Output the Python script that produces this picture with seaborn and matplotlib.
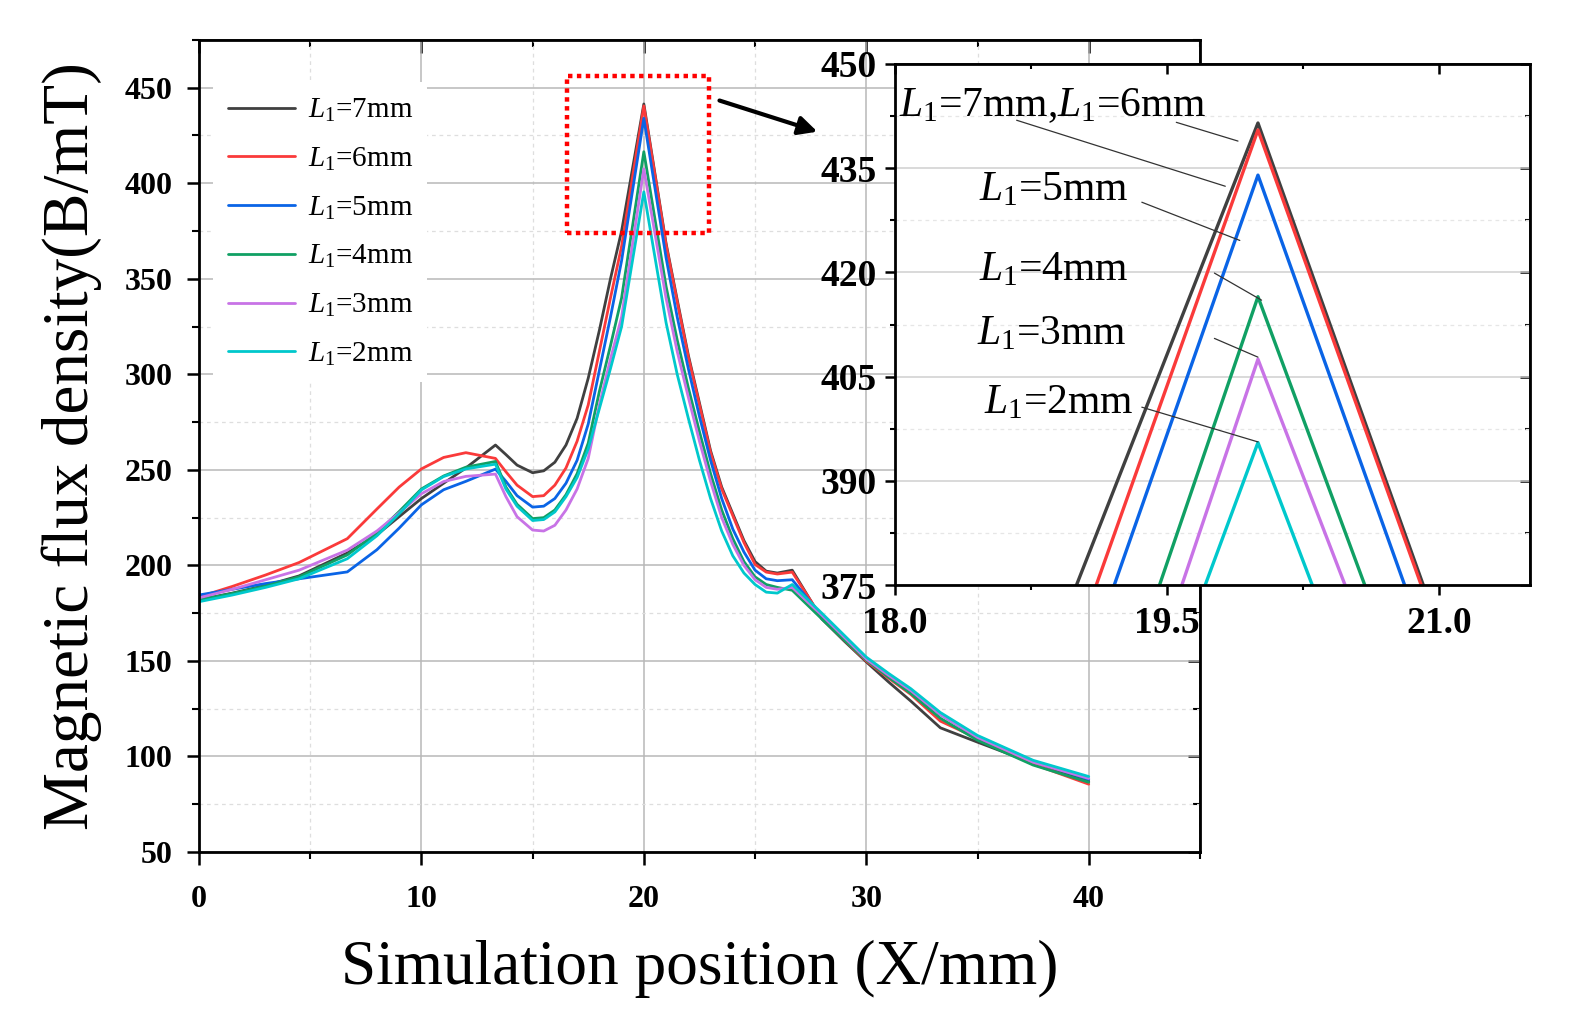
import pandas as pd
import seaborn as sns
from matplotlib import pyplot as plt
from matplotlib.patches import Rectangle
from matplotlib.ticker import MultipleLocator

# simulation positions (mm), shared by every case
POSITION = [0, 1.5, 3, 4.5, 6.67, 8, 9, 10, 11, 12,
            13.33, 13.8, 14.3, 15, 15.5, 16, 16.5, 17, 17.5, 18,
            18.5, 19, 20, 21, 21.5, 22, 22.5, 23, 23.5, 24,
            24.5, 25, 25.5, 26, 26.67, 28, 29, 30, 31, 32,
            33.33, 35, 37.5, 40]

# magnetic flux density (mT), one list per L1
FLUX_7MM = [182, 185.5, 189.5, 194.5, 206.5, 216, 225.5, 235, 243, 251,
            263, 258, 252.5, 248.5, 249.5, 254, 263, 277, 298, 323,
            350, 375, 441.5, 368.5, 339, 310, 285, 260, 241, 227,
            213, 202, 197, 196, 197.5, 172, 160.5, 149.5, 139, 129,
            115, 107.5, 96.5, 87]
FLUX_6MM = [183.5, 189, 195, 201.5, 214, 229.5, 241, 250.5, 256.5, 259,
            256, 249, 242, 236, 236.5, 242, 251, 265, 284, 312,
            340, 367, 440.5, 367.7, 338, 309, 284, 259, 240, 226,
            212, 200.5, 196.5, 195.5, 196.5, 172.5, 161, 150, 141, 132.5,
            118.5, 109.5, 96, 85.5]
FLUX_5MM = [184.5, 187.5, 190.5, 193, 196.6, 208.2, 219.5, 231.7, 239.6, 244,
            250.4, 244, 236.5, 230.5, 231, 235, 243, 255, 274, 302,
            330, 359.5, 434, 361, 330, 303, 278, 255, 235, 219,
            207, 197.5, 193, 192, 192.5, 173.5, 162, 151, 142.5, 134.5,
            122, 110, 97.5, 88]
FLUX_4MM = [182, 185.3, 189.2, 194, 205.5, 216.9, 228.2, 240, 246.8, 251.4,
            254.4, 241, 232, 224.5, 225, 229, 237, 248, 264, 291,
            315, 340, 416.5, 346, 318, 293, 270, 248, 229, 214,
            202, 194, 190, 188.5, 187, 172, 161, 150.5, 141.5, 133,
            120, 108.5, 95.5, 86.5]
FLUX_3MM = [183, 187.5, 192.5, 197.5, 208, 218, 227.5, 237.5, 243.9, 246.6,
            247.8, 236, 225.5, 218.5, 218, 221, 229, 240, 256, 284,
            308, 330, 407.5, 339.8, 312, 288, 265, 244, 225, 211,
            200, 192.5, 188.5, 187.5, 188.5, 174, 162.5, 151, 142.5, 134.5,
            122, 110, 97, 88.5]
FLUX_2MM = [181, 184.5, 188.5, 193, 203.5, 215.5, 227, 239.5, 246.5, 250.5,
            253, 240, 231, 223.5, 224, 228, 236, 246, 261, 282,
            303, 325, 395.5, 327, 300, 277, 255, 235, 218, 205,
            196, 190, 186, 185.5, 190, 175, 163.5, 152, 143.5, 135.5,
            123, 111, 98, 89.5]

SERIES = [FLUX_7MM, FLUX_6MM, FLUX_5MM, FLUX_4MM, FLUX_3MM, FLUX_2MM]
L1 = r"$\mathit{L}_{\mathit{1}}$"
LABELS = [L1 + "=7mm", L1 + "=6mm", L1 + "=5mm", L1 + "=4mm", L1 + "=3mm", L1 + "=2mm"]
COLOURS = ["#404040", "#fa3a3a", "#0a64e6", "#10a064", "#c873e6", "#00c8cc"]

# inset callouts: text, text anchor (x, y), leader lines [(start, end), ...]
CALLOUTS = [
    (L1 + "=7mm," + L1 + "=6mm", (18.02, 444.0),
     [((18.67, 441.9), (19.82, 432.4)), ((19.55, 441.6), (19.89, 438.9))]),
    (L1 + "=5mm", (18.46, 431.8), [((19.36, 430.1), (19.90, 424.6))]),
    (L1 + "=4mm", (18.46, 420.4), [((19.76, 419.9), (20.02, 416.0))]),
    (L1 + "=3mm", (18.45, 411.1), [((19.76, 410.5), (20.0, 407.8))]),
    (L1 + "=2mm", (18.49, 401.2), [((19.36, 400.6), (20.0, 395.6))]),
]

frames = []
for label, values in zip(LABELS, SERIES):
    frames.append(pd.DataFrame({"position": POSITION, "flux": values, "case": label}))
df = pd.concat(frames, ignore_index=True)

sns.set_theme(style="white")
plt.rcParams["font.family"] = ["Liberation Serif", "DejaVu Serif"]
plt.rcParams["mathtext.fontset"] = "custom"
plt.rcParams["mathtext.rm"] = "Liberation Serif"
plt.rcParams["mathtext.it"] = "Liberation Serif:italic"
plt.rcParams["text.color"] = "black"
plt.rcParams["axes.labelcolor"] = "black"
plt.rcParams["xtick.color"] = "black"
plt.rcParams["ytick.color"] = "black"


def style_frame(axis, xmajor, xminor, ymajor, yminor, size, length):
    for spine in axis.spines.values():
        spine.set_color("black")
        spine.set_linewidth(2)
    axis.xaxis.set_minor_locator(MultipleLocator(xminor))
    axis.yaxis.set_minor_locator(MultipleLocator(yminor))
    axis.tick_params(which="major", direction="out", length=length, width=1.8,
                     labelsize=size, colors="black", bottom=True, left=True)
    axis.tick_params(which="minor", direction="out", length=length * 0.55, width=1.5,
                     bottom=True, left=True)
    # mirrored ticks pointing inwards on top / right
    top = axis.secondary_xaxis("top")
    top.set_xticks(xmajor)
    top.xaxis.set_minor_locator(MultipleLocator(xminor))
    top.tick_params(which="major", direction="in", length=length, width=1.8, labeltop=False)
    top.tick_params(which="minor", direction="in", length=length * 0.55, width=1.5)
    right = axis.secondary_yaxis("right")
    right.set_yticks(ymajor)
    right.yaxis.set_minor_locator(MultipleLocator(yminor))
    right.tick_params(which="major", direction="in", length=length, width=1.8, labelright=False)
    right.tick_params(which="minor", direction="in", length=length * 0.55, width=1.5)


fig = plt.figure(figsize=(15.75, 10.3), dpi=100)

# ---- main plot
ax = fig.add_axes([0.1263, 0.1728, 0.6356, 0.7884])
sns.lineplot(data=df, x="position", y="flux", hue="case", hue_order=LABELS,
             palette=COLOURS, linewidth=2.0, errorbar=None, sort=False, ax=ax)
ax.set_xlim(0, 45)
ax.set_ylim(50, 475)
xt = [0, 10, 20, 30, 40]
yt = list(range(50, 451, 50))
ax.set_xticks(xt)
ax.set_xticklabels([str(t) for t in xt], fontweight="bold")
ax.set_yticks(yt)
ax.set_yticklabels([str(t) for t in yt], fontweight="bold")
style_frame(ax, xt, 5, yt, 25, 23, 9)
ax.tick_params(axis="x", pad=15)
ax.tick_params(axis="y", pad=10)
ax.grid(which="major", color="#b8b8b8", linewidth=1.1)
ax.grid(which="minor", color="#dedede", linewidth=0.9, linestyle=(0, (3, 3)))
ax.set_axisbelow(True)
ax.set_xlabel("Simulation position (X/mm)", fontsize=45.5, labelpad=18)
ax.set_ylabel("Magnetic flux density(B/mT)", fontsize=47, labelpad=16)

leg = ax.legend(loc="upper left", bbox_to_anchor=(0.014, 0.948), fontsize=21,
                frameon=True, handlelength=2.3, labelspacing=0.74, handletextpad=0.45,
                borderpad=0.5, borderaxespad=0)
leg.get_frame().set_facecolor("white")
leg.get_frame().set_edgecolor("none")
leg.get_frame().set_alpha(1)
for line in leg.get_lines():
    line.set_linewidth(2)

ax.add_patch(Rectangle((16.55, 373.8), 6.4, 82.5, fill=False, edgecolor="#ff0000",
                       linewidth=3.2, linestyle=(0, (1, 1)), zorder=5))
ax.annotate("", xy=(27.8, 427.0), xytext=(23.4, 443.3), annotation_clip=False,
            arrowprops=dict(arrowstyle="-|>", color="black", lw=3, mutation_scale=28,
                            shrinkA=0, shrinkB=0))

# ---- zoomed inset
axin = fig.add_axes([0.5683, 0.432, 0.4032, 0.5059])
axin.set_facecolor("white")
sns.lineplot(data=df, x="position", y="flux", hue="case", hue_order=LABELS,
             palette=COLOURS, linewidth=2.4, errorbar=None, sort=False, legend=False, ax=axin)
axin.set_xlim(18, 21.5)
axin.set_ylim(375, 450)
ixt = [18.0, 19.5, 21.0]
iyt = list(range(375, 451, 15))
axin.set_xticks(ixt)
axin.set_xticklabels(["%.1f" % t for t in ixt], fontweight="bold")
axin.set_yticks(iyt)
axin.set_yticklabels([str(t) for t in iyt], fontweight="bold")
style_frame(axin, ixt, 0.75, iyt, 7.5, 27, 7)
axin.tick_params(axis="x", pad=8)
axin.tick_params(axis="y", pad=6)
axin.grid(which="major", axis="y", color="#cfcfcf", linewidth=1.1)
axin.grid(which="minor", axis="y", color="#e6e6e6", linewidth=0.9, linestyle=(0, (3, 3)))
axin.set_axisbelow(True)
axin.set_xlabel("")
axin.set_ylabel("")

for text, (tx, ty), leaders in CALLOUTS:
    axin.text(tx, ty, text, fontsize=30, ha="left", va="center", color="black")
    for start, end in leaders:
        axin.annotate("", xy=end, xytext=start,
                      arrowprops=dict(arrowstyle="-", color="#333333", lw=0.9,
                                      shrinkA=0, shrinkB=0))

fig.savefig("out.png", dpi=100)
